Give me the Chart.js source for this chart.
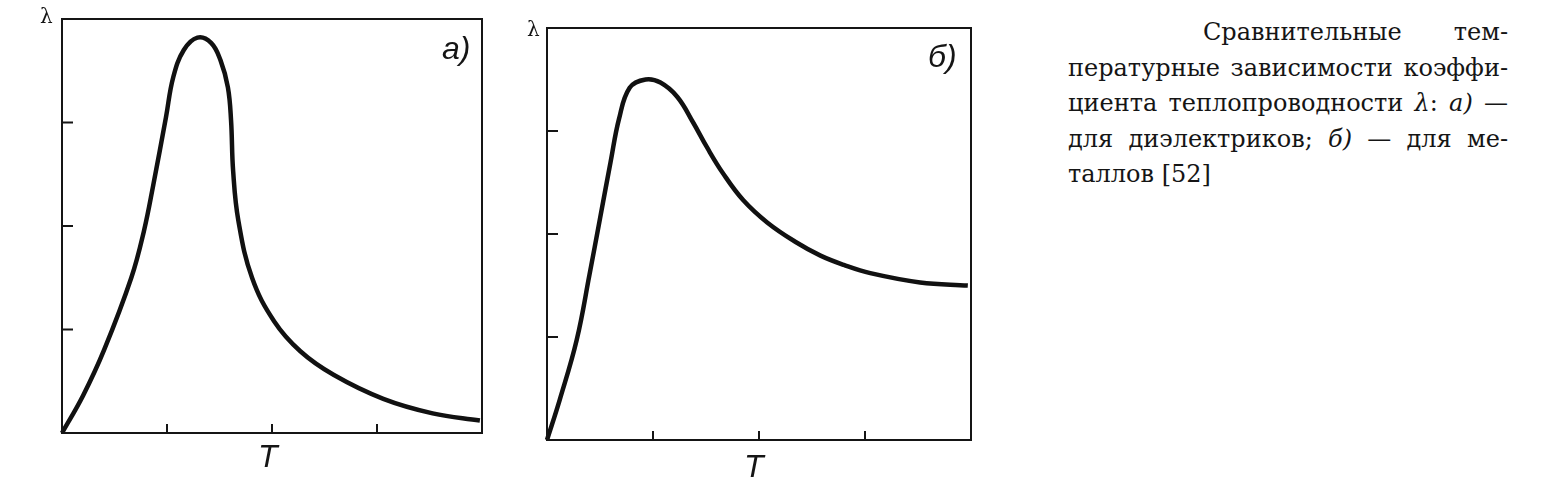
<!DOCTYPE html>
<html>
<head>
<meta charset="utf-8">
<script src="https://cdn.jsdelivr.net/npm/chart.js@4"></script>
<style>
  body { margin: 0; background: #fff; width: 1558px; height: 489px; overflow: hidden; position: relative; color: #151515; }
  .plot { position: absolute; }
  .lbl { position: absolute; font-family: "Liberation Sans", Arial, sans-serif; font-style: italic; line-height: 1; }
  .lam { position: absolute; font-family: "DejaVu Serif", "Liberation Serif", serif; font-size: 20px; line-height: 1; }
  #caption { position: absolute; left: 1068px; top: 15px; width: 440px; font-family: "DejaVu Serif", "Liberation Serif", "Times New Roman", serif; font-size: 24px; line-height: 35.5px; }
  #caption div { text-align: justify; text-align-last: justify; white-space: nowrap; }
  #caption div.last { text-align-last: left; }
  #caption i { font-style: italic; }
</style>
</head>
<body>
<div class="plot" style="left:52px; top:9px; width:440px; height:434px;"><canvas id="grafico_a"></canvas></div>
<div class="plot" style="left:537px; top:18px; width:444px; height:432px;"><canvas id="grafico_b"></canvas></div>

<div class="lam" style="left:40px; top:6px;">λ</div>
<div class="lam" style="left:527px; top:19px;">λ</div>
<div class="lbl" style="left:442px; top:32px; font-size:32px;">a)</div>
<div class="lbl" style="left:928px; top:40px; font-size:32px;">б)</div>
<div class="lbl" style="left:258px; top:440px; font-size:32px;">T</div>
<div class="lbl" style="left:744px; top:450px; font-size:32px;">T</div>

<div id="caption">
  <div style="margin-left:135px;">Сравнительные тем-</div>
  <div>пературные зависимости коэффи-</div>
  <div>циента теплопроводности <i>λ</i>: <i>a)</i> —</div>
  <div>для диэлектриков; <i>б)</i> — для ме-</div>
  <div class="last">таллов [52]</div>
</div>

<script>
// а) диэлектрики
var dielectricT = [0, 0.20, 0.40, 0.66, 0.78, 0.87, 0.99, 1.06, 1.16, 1.29, 1.42, 1.51, 1.58, 1.61, 1.63, 1.68, 1.81, 2.02, 2.27, 2.59, 3.06, 3.53, 3.98];
var dielectricLambda = [0, 0.36, 0.80, 1.50, 1.95, 2.40, 3.05, 3.44, 3.70, 3.82, 3.77, 3.60, 3.34, 3.02, 2.53, 2.05, 1.50, 1.08, 0.79, 0.56, 0.33, 0.19, 0.12];

// б) металлы
var metalT = [0, 0.12, 0.28, 0.40, 0.50, 0.60, 0.68, 0.78, 0.93, 1.07, 1.23, 1.38, 1.51, 1.66, 1.85, 2.08, 2.35, 2.58, 2.80, 3.05, 3.52, 3.97];
var metalLambda = [0, 0.39, 0.97, 1.60, 2.15, 2.70, 3.12, 3.42, 3.50, 3.47, 3.33, 3.08, 2.84, 2.59, 2.33, 2.11, 1.92, 1.79, 1.70, 1.62, 1.53, 1.50];

var tickValues = [1, 2, 3];

// рамка и внутренние засечки
var boxPlugin = {
  id: "box",
  afterDraw: function (chart) {
    var ctx = chart.ctx;
    var a = chart.chartArea;
    var xs = chart.scales.x;
    var ys = chart.scales.y;
    ctx.save();
    ctx.strokeStyle = "#151515";
    ctx.lineWidth = 2;
    ctx.strokeRect(a.left, a.top, a.right - a.left, a.bottom - a.top);
    ctx.beginPath();
    tickValues.forEach(function (v) {
      var px = xs.getPixelForValue(v);
      ctx.moveTo(px, a.bottom);
      ctx.lineTo(px, a.bottom - 9);
      var py = ys.getPixelForValue(v);
      ctx.moveTo(a.left, py);
      ctx.lineTo(a.left + 11, py);
    });
    ctx.stroke();
    ctx.restore();
  }
};

function criarGrafico(id, xs, ys) {
  var pontos = xs.map(function (x, i) { return { x: x, y: ys[i] }; });
  return new Chart(document.getElementById(id), {
    type: "line",
    data: {
      datasets: [{
        data: pontos,
        borderColor: "#111",
        borderWidth: 4.5,
        pointRadius: 0,
        tension: 0.4,
        fill: false,
        clip: 4
      }]
    },
    options: {
      responsive: true,
      maintainAspectRatio: false,
      animation: false,
      layout: { padding: 10 },
      plugins: { legend: { display: false }, tooltip: { enabled: false } },
      scales: {
        x: { type: "linear", min: 0, max: 4, display: false },
        y: { type: "linear", min: 0, max: 4, display: false }
      }
    },
    plugins: [boxPlugin]
  });
}

criarGrafico("grafico_a", dielectricT, dielectricLambda);
criarGrafico("grafico_b", metalT, metalLambda);
</script>
</body>
</html>
